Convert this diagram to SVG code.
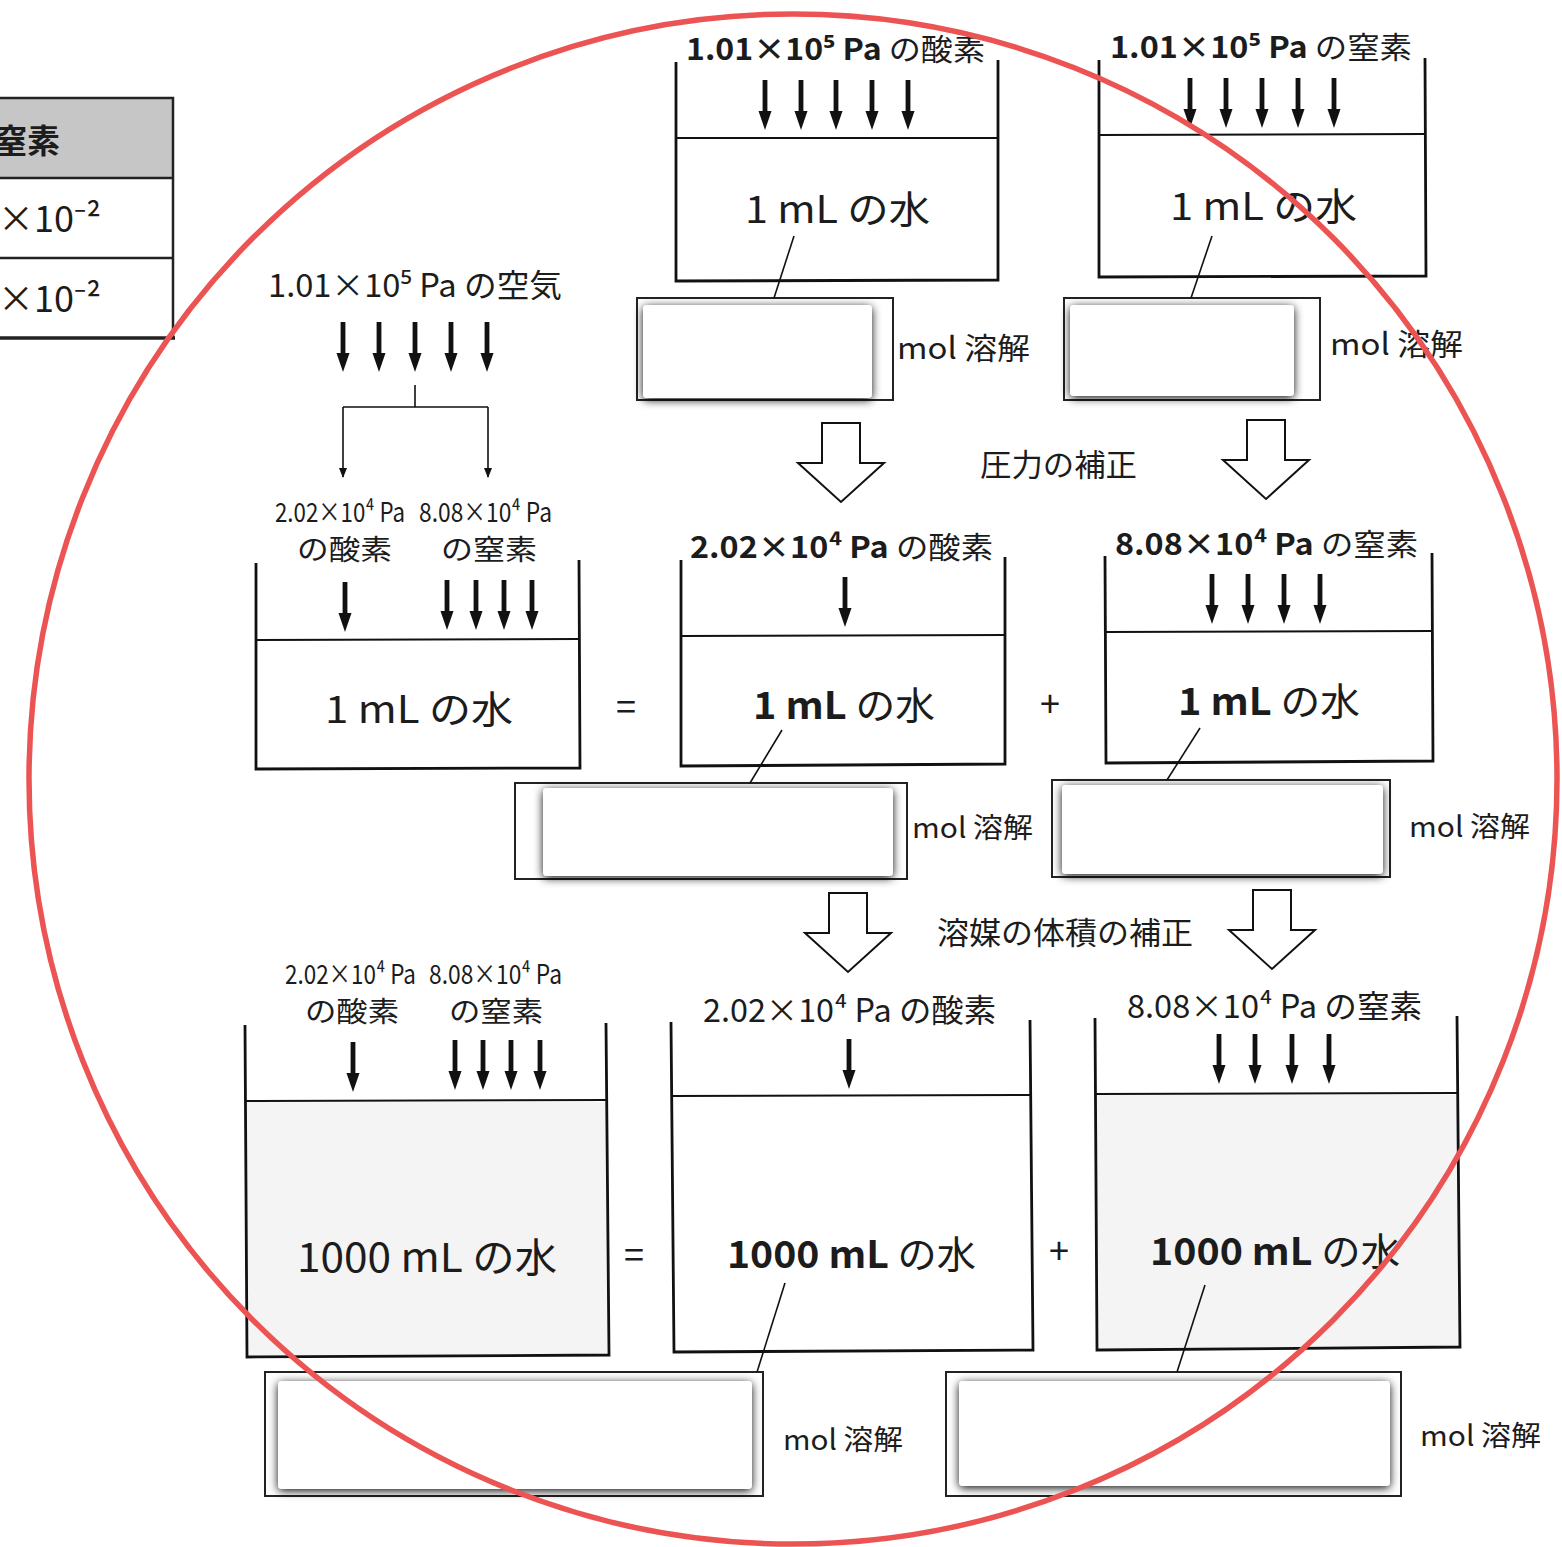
<svg xmlns="http://www.w3.org/2000/svg" xmlns:xlink="http://www.w3.org/1999/xlink" width="1562" height="1547" viewBox="0 0 1562 1547">
<style>
.t{font-family:"Noto Sans CJK JP","Noto Sans",sans-serif;fill:#1c1c1c}
.b{font-weight:700}
.w{fill:none;stroke:#111;stroke-width:2.8}
.wl{stroke:#111;stroke-width:2}
.ld{stroke:#111;stroke-width:1.6;fill:none}
.ob{fill:#fff;stroke:#222;stroke-width:2}
.ib{fill:#fff}
.ha{fill:#fff;stroke:#111;stroke-width:2;stroke-linejoin:miter}
.gw{fill:#f4f4f4}
</style>
<defs>
<g id="dn"><rect x="-2.4" y="0" width="4.8" height="36" fill="#111"/><polygon points="-6.5,31 6.5,31 0,50" fill="#111"/></g>
<g id="ha"><polygon class="ha" points="-19,0 19,0 19,40 43,40 0,79 -43,40 -19,40"/></g>
<marker id="sm" viewBox="0 -5 10 10" refX="9" refY="0" markerWidth="10" markerHeight="10" markerUnits="userSpaceOnUse" orient="auto"><path d="M0,-4 L10,0 L0,4 z" fill="#111"/></marker>
<filter id="sh" x="-10%" y="-25%" width="120%" height="150%"><feDropShadow dx="0" dy="2" stdDeviation="5" flood-color="#000" flood-opacity="0.95"/></filter>
</defs>

<!-- table fragment -->
<g id="table">
<rect x="-2" y="98" width="175" height="80" fill="#c6c6c6"/>
<path d="M-2,98 H173 V338 M-2,178 H173 M-2,258 H173" fill="none" stroke="#222" stroke-width="2.5"/>
<path d="M-2,338 H175" stroke="#222" stroke-width="3.5"/>
<text class="t b" x="-6" y="153" font-size="33">窒素</text>
<text class="t" x="-2" y="232" font-size="36">×10⁻²</text>
<text class="t" x="-2" y="312" font-size="36">×10⁻²</text>
</g>

<!-- air source -->
<g id="air">
<text class="t" x="268" y="297" font-size="32" textLength="294" lengthAdjust="spacingAndGlyphs">1.01×10⁵ Pa の空気</text>
<use xlink:href="#dn" x="343" y="322"/><use xlink:href="#dn" x="379" y="322"/><use xlink:href="#dn" x="415" y="322"/><use xlink:href="#dn" x="451" y="322"/><use xlink:href="#dn" x="487" y="322"/>
</g>

<!-- container: 1 mL mixed -->
<g id="c-mix-1ml">
<text class="t" x="275" y="522" font-size="27" textLength="130" lengthAdjust="spacingAndGlyphs">2.02×10⁴ Pa</text>
<text class="t" x="419" y="522" font-size="27" textLength="133" lengthAdjust="spacingAndGlyphs">8.08×10⁴ Pa</text>
<text class="t" x="297" y="560" font-size="28" textLength="95" lengthAdjust="spacingAndGlyphs">の酸素</text>
<text class="t" x="441" y="560" font-size="28" textLength="96" lengthAdjust="spacingAndGlyphs">の窒素</text>
<path class="w" d="M256,563 L256,769 L580,768 L579,560"/>
<line class="wl" x1="256" y1="640" x2="579" y2="639"/>
<use xlink:href="#dn" x="345" y="582"/>
<use xlink:href="#dn" x="447" y="580"/><use xlink:href="#dn" x="476" y="580"/><use xlink:href="#dn" x="504" y="580"/><use xlink:href="#dn" x="532" y="580"/>
<text class="t" x="325" y="723" font-size="38" textLength="188" lengthAdjust="spacingAndGlyphs">1 mL の水</text>
</g>
<text id="eq1" class="t" x="616" y="720" font-size="36">=</text>

<!-- top O2 -->
<g id="c-o2-top">
<text class="t" x="686" y="60" font-size="30" textLength="299" lengthAdjust="spacingAndGlyphs"><tspan class="b">1.01×10⁵ Pa</tspan> の酸素</text>
<path class="w" d="M676,62 L676,281 L998,280 L998,60"/>
<line class="wl" x1="676" y1="138" x2="998" y2="138"/>
<use xlink:href="#dn" x="765" y="80"/><use xlink:href="#dn" x="801" y="80"/><use xlink:href="#dn" x="836" y="80"/><use xlink:href="#dn" x="872" y="80"/><use xlink:href="#dn" x="908" y="80"/>
<text class="t" x="745" y="223" font-size="38" textLength="185" lengthAdjust="spacingAndGlyphs">1 mL の水</text>
</g>
<g id="ans-o2-top">
<rect class="ob" x="637" y="298" width="256" height="102"/>
<rect class="ib" x="643" y="305" width="229" height="93" rx="4" filter="url(#sh)"/>
<text class="t" x="897" y="359" font-size="30" textLength="133" lengthAdjust="spacingAndGlyphs">mol 溶解</text>
</g>

<!-- top N2 -->
<g id="c-n2-top">
<text class="t" x="1110" y="58" font-size="30" textLength="302" lengthAdjust="spacingAndGlyphs"><tspan class="b">1.01×10⁵ Pa</tspan> の窒素</text>
<path class="w" d="M1099,60 L1099,277 L1426,276 L1425,58"/>
<line class="wl" x1="1099" y1="135" x2="1425" y2="134"/>
<use xlink:href="#dn" x="1190" y="78"/><use xlink:href="#dn" x="1226" y="78"/><use xlink:href="#dn" x="1262" y="78"/><use xlink:href="#dn" x="1298" y="78"/><use xlink:href="#dn" x="1334" y="78"/>
<text class="t" x="1170" y="220" font-size="38" textLength="187" lengthAdjust="spacingAndGlyphs">1 mL の水</text>
</g>
<g id="ans-n2-top">
<rect class="ob" x="1064" y="298" width="256" height="102"/>
<rect class="ib" x="1070" y="305" width="224" height="91" rx="4" filter="url(#sh)"/>
<text class="t" x="1330" y="355" font-size="30" textLength="133" lengthAdjust="spacingAndGlyphs">mol 溶解</text>
</g>

<text id="lbl-pressure" class="t" x="980" y="476" font-size="31" textLength="157" lengthAdjust="spacingAndGlyphs">圧力の補正</text>

<!-- mid O2 -->
<g id="c-o2-mid">
<text class="t" x="690" y="558" font-size="30" textLength="303" lengthAdjust="spacingAndGlyphs"><tspan class="b">2.02×10⁴ Pa</tspan> の酸素</text>
<path class="w" d="M681,560 L681,766 L1005,764 L1005,557"/>
<line class="wl" x1="681" y1="636" x2="1005" y2="635"/>
<use xlink:href="#dn" x="845" y="577"/>
<text class="t" x="753" y="719" font-size="38" textLength="182" lengthAdjust="spacingAndGlyphs"><tspan class="b">1 mL</tspan> の水</text>
</g>
<g id="ans-o2-mid">
<rect class="ob" x="515" y="783" width="392" height="96"/>
<rect class="ib" x="543" y="788" width="350" height="88" rx="4" filter="url(#sh)"/>
<text class="t" x="912" y="838" font-size="28" textLength="121" lengthAdjust="spacingAndGlyphs">mol 溶解</text>
</g>
<text id="plus1" class="t" x="1040" y="717" font-size="36">+</text>

<!-- mid N2 -->
<g id="c-n2-mid">
<text class="t" x="1115" y="555" font-size="30" textLength="303" lengthAdjust="spacingAndGlyphs"><tspan class="b">8.08×10⁴ Pa</tspan> の窒素</text>
<path class="w" d="M1105,556 L1106,763 L1433,761 L1432,553"/>
<line class="wl" x1="1105" y1="632" x2="1432" y2="631"/>
<use xlink:href="#dn" x="1212" y="574"/><use xlink:href="#dn" x="1248" y="574"/><use xlink:href="#dn" x="1284" y="574"/><use xlink:href="#dn" x="1320" y="574"/>
<text class="t" x="1178" y="715" font-size="38" textLength="182" lengthAdjust="spacingAndGlyphs"><tspan class="b">1 mL</tspan> の水</text>
</g>
<g id="ans-n2-mid">
<rect class="ob" x="1052" y="780" width="338" height="97"/>
<rect class="ib" x="1062" y="785" width="321" height="89" rx="4" filter="url(#sh)"/>
<text class="t" x="1409" y="837" font-size="28" textLength="121" lengthAdjust="spacingAndGlyphs">mol 溶解</text>
</g>

<text id="lbl-volume" class="t" x="937" y="944" font-size="31" textLength="256" lengthAdjust="spacingAndGlyphs">溶媒の体積の補正</text>

<!-- bottom mixed -->
<g id="c-mix-1000ml">
<text class="t" x="285" y="984" font-size="27" textLength="131" lengthAdjust="spacingAndGlyphs">2.02×10⁴ Pa</text>
<text class="t" x="429" y="984" font-size="27" textLength="133" lengthAdjust="spacingAndGlyphs">8.08×10⁴ Pa</text>
<text class="t" x="305" y="1022" font-size="28" textLength="94" lengthAdjust="spacingAndGlyphs">の酸素</text>
<text class="t" x="449" y="1022" font-size="28" textLength="94" lengthAdjust="spacingAndGlyphs">の窒素</text>
<rect class="gw" x="247" y="1102" width="360" height="253"/>
<path class="w" d="M245,1025 L247,1357 L609,1355 L606,1023"/>
<line class="wl" x1="245" y1="1101" x2="606" y2="1100"/>
<use xlink:href="#dn" x="353" y="1042"/>
<use xlink:href="#dn" x="455" y="1040"/><use xlink:href="#dn" x="483" y="1040"/><use xlink:href="#dn" x="511" y="1040"/><use xlink:href="#dn" x="540" y="1040"/>
<text class="t" x="297" y="1272" font-size="40" textLength="260" lengthAdjust="spacingAndGlyphs">1000 mL の水</text>
</g>
<text id="eq2" class="t" x="624" y="1268" font-size="36">=</text>

<!-- bottom O2 -->
<g id="c-o2-bot">
<text class="t" x="703" y="1022" font-size="32" textLength="293" lengthAdjust="spacingAndGlyphs">2.02×10⁴ Pa の酸素</text>
<path class="w" d="M671,1022 L674,1352 L1033,1350 L1030,1020"/>
<line class="wl" x1="671" y1="1096" x2="1030" y2="1095"/>
<use xlink:href="#dn" x="849" y="1039"/>
<text class="t" x="727" y="1268" font-size="38" textLength="249" lengthAdjust="spacingAndGlyphs"><tspan class="b">1000 mL</tspan> の水</text>
</g>
<g id="ans-o2-bot">
<rect class="ob" x="265" y="1372" width="498" height="124"/>
<rect class="ib" x="278" y="1381" width="474" height="108" rx="4" filter="url(#sh)"/>
<text class="t" x="783" y="1450" font-size="28" textLength="120" lengthAdjust="spacingAndGlyphs">mol 溶解</text>
</g>
<text id="plus2" class="t" x="1049" y="1264" font-size="36">+</text>

<!-- bottom N2 -->
<g id="c-n2-bot">
<text class="t" x="1127" y="1018" font-size="32" textLength="295" lengthAdjust="spacingAndGlyphs">8.08×10⁴ Pa の窒素</text>
<rect class="gw" x="1097" y="1095" width="362" height="253"/>
<path class="w" d="M1095,1018 L1097,1350 L1460,1347 L1457,1016"/>
<line class="wl" x1="1095" y1="1094" x2="1457" y2="1093"/>
<use xlink:href="#dn" x="1219" y="1034"/><use xlink:href="#dn" x="1255" y="1034"/><use xlink:href="#dn" x="1292" y="1034"/><use xlink:href="#dn" x="1329" y="1034"/>
<text class="t" x="1150" y="1265" font-size="38" textLength="250" lengthAdjust="spacingAndGlyphs"><tspan class="b">1000 mL</tspan> の水</text>
</g>
<g id="ans-n2-bot">
<rect class="ob" x="946" y="1372" width="455" height="124"/>
<rect class="ib" x="959" y="1381" width="431" height="105" rx="4" filter="url(#sh)"/>
<text class="t" x="1420" y="1446" font-size="28" textLength="121" lengthAdjust="spacingAndGlyphs">mol 溶解</text>
</g>

<!-- connectors -->
<g id="connectors">
<path class="ld" d="M415,385 V407 M343,407 H488"/>
<line class="ld" x1="343" y1="407" x2="343" y2="477" marker-end="url(#sm)"/>
<line class="ld" x1="488" y1="407" x2="488" y2="477" marker-end="url(#sm)"/>
<line class="ld" x1="794" y1="236" x2="774" y2="298"/>
<line class="ld" x1="1212" y1="236" x2="1191" y2="298"/>
<line class="ld" x1="782" y1="730" x2="750" y2="783"/>
<line class="ld" x1="1200" y1="728" x2="1167" y2="780"/>
<line class="ld" x1="785" y1="1283" x2="757" y2="1372"/>
<line class="ld" x1="1205" y1="1285" x2="1177" y2="1372"/>
<use xlink:href="#ha" x="841" y="423"/>
<use xlink:href="#ha" x="1266" y="420"/>
<use xlink:href="#ha" x="848" y="893"/>
<use xlink:href="#ha" x="1272" y="890"/>
</g>

<!-- red circle overlay -->
<ellipse id="circle" cx="793" cy="779" rx="764" ry="765" fill="none" stroke="#ec5454" stroke-width="5.5"/>
</svg>
